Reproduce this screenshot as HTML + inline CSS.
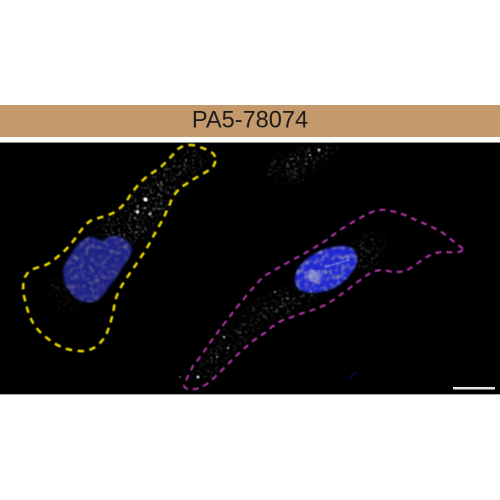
<!DOCTYPE html>
<html lang="en">
<head>
<meta charset="utf-8">
<title>PA5-78074</title>
<style>
html,body{margin:0;padding:0;background:#fff;width:500px;height:500px;overflow:hidden}
svg{display:block}
</style>
</head>
<body>
<svg width="500" height="500" viewBox="0 0 500 500" xmlns="http://www.w3.org/2000/svg">
<defs>
<filter id="speckle" x="-10%" y="-10%" width="120%" height="120%" color-interpolation-filters="sRGB">
<feTurbulence type="fractalNoise" baseFrequency="0.38" numOctaves="2" seed="7" result="n"/>
<feColorMatrix in="n" type="matrix" values="0 0 0 0 1  0 0 0 0 1  0 0 0 0 1  3 3 0 0 -3.25" result="w"/>
<feGaussianBlur in="SourceGraphic" stdDeviation="6" result="soft"/>
<feComposite in="w" in2="soft" operator="in" result="m"/>
<feGaussianBlur in="m" stdDeviation="0.7"/>
</filter>
<filter id="nucleus-tex" x="-10%" y="-10%" width="120%" height="120%" color-interpolation-filters="sRGB">
<feTurbulence type="fractalNoise" baseFrequency="0.2" numOctaves="2" seed="11" result="n"/>
<feColorMatrix in="n" type="matrix" values="0 0 0 0 0.62  0 0 0 0 0.62  0 0 0 0 0.68  1.7 1.7 0 0 -1.6" result="w"/>
<feComposite in="w" in2="SourceAlpha" operator="in" result="m"/>
<feGaussianBlur in="m" stdDeviation="0.8" result="mb"/>
<feGaussianBlur in="SourceGraphic" stdDeviation="1" result="base"/>
<feMerge><feMergeNode in="base"/><feMergeNode in="mb"/></feMerge>
</filter>
<filter id="nucleus-tex-dim" x="-10%" y="-10%" width="120%" height="120%" color-interpolation-filters="sRGB">
<feTurbulence type="fractalNoise" baseFrequency="0.2" numOctaves="2" seed="11" result="n"/>
<feColorMatrix in="n" type="matrix" values="0 0 0 0 0.5  0 0 0 0 0.5  0 0 0 0 0.58  1.3 1.3 0 0 -1.25" result="w"/>
<feComposite in="w" in2="SourceAlpha" operator="in" result="m"/>
<feGaussianBlur in="m" stdDeviation="0.8" result="mb"/>
<feGaussianBlur in="SourceGraphic" stdDeviation="1" result="base"/>
<feMerge><feMergeNode in="base"/><feMergeNode in="mb"/></feMerge>
</filter>
<filter id="b1"><feGaussianBlur stdDeviation="0.5"/></filter>
<filter id="b2"><feGaussianBlur stdDeviation="3"/></filter>
<filter id="t1"><feGaussianBlur stdDeviation="0.35"/></filter>
<filter id="o1" x="-5%" y="-5%" width="110%" height="110%"><feGaussianBlur stdDeviation="0.4"/></filter>
</defs>

<rect x="0" y="105" width="500" height="32" fill="#c49a6c"/>
<text x="250" y="127.300" text-anchor="middle" font-family="'Liberation Sans',sans-serif" font-size="23.600" fill="#1c1c1c" filter="url(#t1)">PA5-78074</text>

<rect x="0" y="142" width="500" height="1.500" fill="#8a8a8a"/>
<rect x="0" y="143" width="500" height="251" fill="#000"/>
<rect x="0" y="394" width="500" height="1" fill="#aaa"/>

<g filter="url(#speckle)" opacity=".6">
<path d="M186 151 L205 152 L200 168 L182 180 L168 205 L150 232 L125 245 L95 232 L115 215 L140 190 L160 172Z" fill="#fff"/>
<path d="M62 275 L45 285 L60 310 L85 315 L75 295Z" fill="#fff" opacity=".4"/>
</g>
<g filter="url(#speckle)" opacity=".8">
<path d="M266 178 L278 160 L310 150 L345 143 L320 158 L305 168 L300 180 L280 176Z" fill="#fff"/>
</g>
<g filter="url(#speckle)" opacity=".5">
<path d="M296 290 L320 275 L312 300 L285 315 L262 320 L238 345 L228 350 L215 375 L195 382 L200 368 L230 330 L262 300Z" fill="#fff"/>
<path d="M352 250 L375 232 L382 240 L378 258 L360 272Z" fill="#fff"/>
<path d="M404 246 L416 250 L405 256Z" fill="#fff" opacity=".6"/>
</g>

<g fill="#fff" filter="url(#b1)">
<circle cx="145.500" cy="199.500" r="2"/>
<circle cx="137.500" cy="212" r="1.700" opacity=".85"/>
<circle cx="150" cy="214" r="1.500" opacity=".7"/>
<circle cx="145" cy="208" r="1.200" opacity=".5"/>
<circle cx="186" cy="160" r="1" opacity=".5"/>
<circle cx="158" cy="185" r="1" opacity=".45"/>
<circle cx="319" cy="150" r="1.500" opacity=".75"/>
<circle cx="310" cy="155" r="1.100" opacity=".6"/>
<circle cx="198" cy="377" r="1.500" opacity=".8"/>
<circle cx="180" cy="377" r=".9" opacity=".5"/>
<circle cx="224" cy="337" r="1.100" opacity=".8"/>
<circle cx="228" cy="348" r="1.100" opacity=".7"/>
<circle cx="217" cy="357" r="1" opacity=".5"/>
<circle cx="275" cy="292" r="1" opacity=".6"/>
</g>

<g>
<path d="M63 272 C64 262 70 256 74 250 C78 243 83 238 90 237 C96 236 99 241 102 241 C105 240 108 236 114 236 C122 236 130 241 132 249 C132 256 126 262 122 268 C118 275 115 280 110 285 C106 291 102 298 96 301 C90 304 82 302 76 298 C70 293 63 285 63 272Z" fill="#1f2386" filter="url(#nucleus-tex-dim)"/>
</g>
<g>
<path d="M295 279 C295 270 302 262 311 256 C320 250 332 246 345 246 C354 247 358 254 357 262 C354 272 346 281 336 287 C326 292 314 294 305 292 C298 290 295 286 295 279Z" fill="#2028d2" filter="url(#nucleus-tex)"/>
<ellipse cx="314" cy="276" rx="8" ry="5" fill="#c9c9dc" opacity=".65" filter="url(#b2)"/>
<path d="M325 267 L349 260" stroke="#8f9cf5" stroke-width="1" fill="none" opacity=".8" filter="url(#b1)"/>
</g>

<path d="M358 373 C353 373 350 376 351 379" fill="none" stroke="#10108a" stroke-width="1" filter="url(#b1)"/>

<path filter="url(#o1)" fill="none" stroke="#ecd800" stroke-width="2.500" stroke-dasharray="6.500 5.500" stroke-linecap="butt" d="M215 157 C214 152 208 150 197 146 C190 144 182 145 177 150 C172 156 168 160 162 166 C156 171 148 175 143 180 C137 186 132 192 129 197 C126 203 120 209 113 213 C107 216 98 218 92 220 C86 223 81 230 77 236 C72 243 67 249 62 253 C56 258 50 264 43 266 C36 268 29 269 25 277 C22 285 23 294 25 300 C27 309 29 315 32 321 C35 327 41 334 47 338 C53 343 60 347 67 349 C75 351 83 352 89 350 C96 348 102 342 106 335 C109 328 111 320 113 314 C114 307 115 299 118 293 C121 286 126 279 130 273 C135 266 139 260 143 254 C147 248 151 241 154 235 C158 228 162 221 165 215 C167 210 169 205 170 204 C171 201 172 198 175 194 C178 190 180 188 183 186 C188 183 192 180 192 180 C197 177 207 172 212 168 C215 165 216 160 215 157Z"/>

<path filter="url(#o1)" fill="none" stroke="#ad35a5" stroke-width="2.100" stroke-dasharray="6 5" d="M463 249 C459 245 450 239 443 233 C436 229 428 225 423 223 C415 220 408 216 402 214 C395 212 387 209 380 210 C374 210 366 215 360 218 C353 222 346 226 340 230 C333 235 327 240 322 243 C316 247 308 251 302 255 C296 258 288 262 282 266 C276 269 269 273 263 277 C258 282 252 289 247 295 C242 301 237 307 233 312 C229 318 224 324 220 329 C216 335 211 341 207 347 C203 353 198 360 193 366 C190 372 186 380 184 385 C184 389 190 390 195 389 C201 388 208 384 213 379 C218 374 225 367 230 362 C236 356 242 350 247 346 C253 341 259 336 265 333 C270 328 277 323 283 320 C290 318 297 315 303 313 C310 311 319 308 325 305 C332 301 339 296 343 293 C349 289 357 282 363 278 C369 273 376 270 382 270 C387 270 391 272 393 272 C398 272 402 272 405 271 C412 268 420 261 425 258 C431 254 437 252 443 252 C449 252 455 253 459 252 C462 251 463 250 463 249Z"/>

<rect x="453" y="387" width="42" height="2.500" fill="#e4e4e4"/>
</svg>
</body>
</html>
